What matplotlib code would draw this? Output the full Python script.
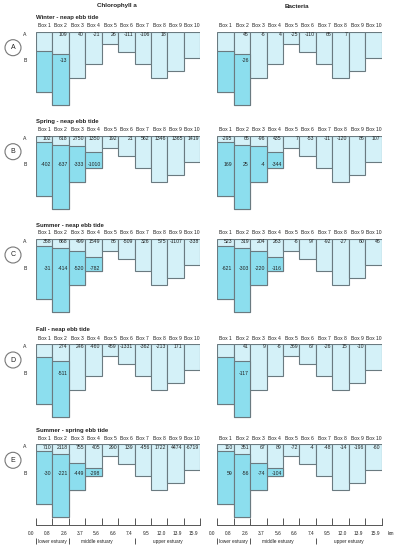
import matplotlib
matplotlib.use('Agg')
import matplotlib.pyplot as plt
import matplotlib.patches as mpatches
import numpy as np

plt.rcParams['font.family'] = ['Liberation Sans', 'DejaVu Sans']

nan = np.nan

# ---- data ----
seasons = ['Winter - neap ebb tide', 'Spring - neap ebb tide', 'Summer - neap ebb tide',
           'Fall - neap ebb tide', 'Summer - spring ebb tide']
panel_letters = ['A', 'B', 'C', 'D', 'E']
box_labels = ['Box %d' % i for i in range(1, 11)]
km_labels = ['0.0', '0.8', '2.6', '3.7', '5.6', '6.6', '7.4', '9.5', '12.0', '13.9', '15.9']

# total depth of each box (schematic units)
box_depth = [15.0, 18.25, 11.5, 8.0, 3.0, 5.0, 8.0, 11.5, 9.75, 6.5]

# depth of the A/B interface in boxes 1-4 (nan = no bottom layer)
interface = [
    [4.75, 5.5, nan, nan],   # winter
    [1.65, 2.25, 2.5, 4.15],  # spring
    [1.7, 2.2, 2.9, 4.4],     # summer
    [3.3, 4.2, nan, nan],     # fall
    [1.7, 2.5, 4.6, 6.0],     # summer spring tide
]

chl_A = [
    [nan, 109, 40, -21, 26, -111, -106, 18, nan, nan],
    [102, 618, 2750, 1350, 192, 21, 562, 1346, 1365, 1419],
    [358, 668, 499, 1549, 86, -509, 326, 575, -1107, -338],
    [nan, 274, 246, -460, 459, -1331, -362, -213, 171, nan],
    [710, 2118, 755, 405, 290, 139, -456, 1722, 4474, -6719],
]
chl_B = [
    [nan, -13, nan, nan],
    [-402, -637, -333, -1010],
    [-31, -414, -520, -782],
    [nan, -511, nan, nan],
    [-30, -221, -449, -298],
]
bac_A = [
    [nan, 45, -6, 4, -25, -110, 65, 7, nan, nan],
    [-295, 65, -96, 435, 7, -53, -11, -120, 86, 107],
    [523, 319, 204, 263, -6, 97, -92, -27, 60, 46],
    [nan, 41, 9, -6, 369, 67, -26, 15, -10, nan],
    [110, 351, 67, 89, -72, -4, -48, -14, -196, -60],
]
bac_B = [
    [nan, -26, nan, nan],
    [169, 25, -4, -344],
    [-621, -303, -220, -116],
    [nan, -117, nan, nan],
    [59, -56, -74, -104],
]

# ---- layout (pixels) ----
W, H = 397, 550
col_left = [36, 217.3]
col_width = 164.3
row_top = [31.7, 135.7, 239, 344, 444.3]
px_per_unit = 4.0
ymax = 19.0

light = '#d4f1f8'
dark = '#8cdeee'
edge = '#6a7a80'
txt = '#222222'

fig = plt.figure(figsize=(W / 100, H / 100), dpi=100)

# overlay for free labels
ov = fig.add_axes([0, 0, 1, 1])
ov.set_xlim(0, W)
ov.set_ylim(H, 0)
ov.axis('off')


def px_axes(x, y, w, h):
    return fig.add_axes([x / W, 1 - (y + h) / H, w / W, h / H])


def draw_panel(ax, inter, vals_A, vals_B):
    x = np.arange(10)
    ax.set_xlim(0, 10)
    ax.set_ylim(ymax, 0)
    ax.axis('off')
    ax.bar(x, box_depth, width=1, bottom=0, align='edge',
           color=light, edgecolor=edge, linewidth=0.8)
    inter = np.array(inter)
    has_b = ~np.isnan(inter)
    xb = x[:4][has_b]
    bot = inter[has_b]
    hgt = np.array(box_depth[:4])[has_b] - bot
    ax.bar(xb, hgt, width=1, bottom=bot, align='edge',
           color=dark, edgecolor=edge, linewidth=0.8)
    for i in range(10):
        ax.text(i + 0.5, -1.5, box_labels[i], ha='center', va='center',
                fontsize=3.6, color=txt)
        if not np.isnan(vals_A[i]):
            ax.text(i + 0.93, 0.72, '%d' % vals_A[i], ha='right', va='center',
                    fontsize=3.7, color=txt)
    for i in range(4):
        if not np.isnan(vals_B[i]):
            ax.text(i + 0.93, 7.3, '%d' % vals_B[i], ha='right', va='center',
                    fontsize=3.7, color=txt)


for r in range(5):
    top = row_top[r]
    for c in range(2):
        ax = px_axes(col_left[c], top, col_width, ymax * px_per_unit)
        if c == 0:
            draw_panel(ax, interface[r], chl_A[r], chl_B[r])
        else:
            draw_panel(ax, interface[r], bac_A[r], bac_B[r])
    ov.text(col_left[0], top - 14, seasons[r], ha='left', va='center',
            fontsize=4.3, fontweight='bold', color=txt)
    ov.add_patch(mpatches.Circle((13, top + 16), 8, facecolor='white',
                                 edgecolor='#777777', linewidth=0.8))
    ov.text(13, top + 16, panel_letters[r], ha='center', va='center',
            fontsize=5, color=txt)
    ov.text(25, top + 2.3, 'A', ha='center', va='center', fontsize=3.7, color=txt)
    ov.text(25, top + 29.3, 'B', ha='center', va='center', fontsize=3.7, color=txt)

ov.text(117, 6, 'Chlorophyll a', ha='center', va='center', fontsize=4.5,
        fontweight='bold', color=txt)
ov.text(297, 6, 'Bacteria', ha='center', va='center', fontsize=4.5,
        fontweight='bold', color=txt)

# ---- distance axes ----
for c in range(2):
    ax = px_axes(col_left[c], 512, col_width, 36)
    ax.set_xlim(0, 10)
    ax.set_ylim(36, 0)
    for s in ['top', 'left', 'right']:
        ax.spines[s].set_visible(False)
    ax.spines['bottom'].set_position(('data', 13))
    ax.spines['bottom'].set_color('#555555')
    ax.spines['bottom'].set_linewidth(0.7)
    ax.set_yticks([])
    ax.set_xticks(range(11))
    ax.set_xticklabels([])
    ax.tick_params(axis='x', direction='in', length=5, width=0.7, color='#555555')
    ax.patch.set_visible(False)
    for i, lab in enumerate(km_labels):
        ax.text(i - 0.12, 21.5, lab, ha='right', va='center', fontsize=3.4, color=txt)
    ax.vlines([0, 2, 6, 10], 26, 32, color='#555555', linewidth=0.7)
    ax.text(1, 29.5, 'lower estuary', ha='center', va='center', fontsize=3.4, color=txt)
    ax.text(3.7, 29.5, 'middle estuary', ha='center', va='center', fontsize=3.4, color=txt)
    ax.text(8, 29.5, 'upper estuary', ha='center', va='center', fontsize=3.4, color=txt)
    if c == 1:
        ax.text(10.35, 21.5, 'km', ha='left', va='center', fontsize=3.4, color=txt)

fig.savefig('out.png', dpi=100)
